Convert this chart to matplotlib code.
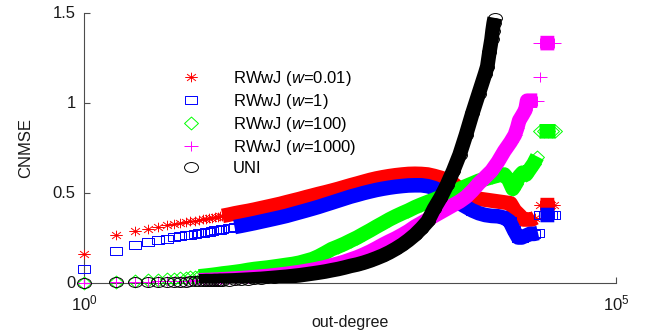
import numpy as np
import matplotlib
matplotlib.use('Agg')
import matplotlib.pyplot as plt
from matplotlib.path import Path
from matplotlib.transforms import Affine2D
from matplotlib.ticker import NullLocator

plt.rcParams['font.family'] = ['Liberation Sans', 'DejaVu Sans']
plt.rcParams['mathtext.fontset'] = 'custom'
plt.rcParams['mathtext.rm'] = 'Liberation Sans'
plt.rcParams['mathtext.it'] = 'Liberation Sans:italic'

# out-degree values of the main band (shared by all five estimators)
degree = [1, 2, 3, 4, 5, 6, 7, 8, 9, 10, 11, 12, 13, 14, 15, 16, 17, 18, 19, 20,
          23, 26, 30, 35, 40, 46, 53, 61, 70, 80, 92, 106, 122, 140, 160, 185, 212, 245, 280, 320,
          370, 425, 490, 560, 645, 740, 850, 980, 1120, 1290, 1480, 1700, 1950, 2240, 2570, 2950,
          3390, 3890, 4470, 5130, 5890]

cnmse_w001 = [.157, .264, .286, .300, .310, .318, .324, .330, .335, .340, .344, .348, .352, .355, .358,
              .361, .364, .366, .368, .370,
              .377, .384, .391, .398, .405, .413, .421, .429, .437, .446, .455, .464, .474, .483, .492,
              .501, .510, .520, .530, .540,
              .550, .560, .570, .578, .585, .591, .596, .600, .603, .604, .603, .600, .592, .582, .570,
              .550, .520, .490, .475, .465, .460]
cnmse_w1 = [.075, .175, .208, .223, .236, .244, .251, .257, .262, .266, .270, .274, .277, .280, .283,
            .286, .289, .291, .293, .295,
            .302, .308, .315, .323, .330, .338, .346, .354, .362, .370, .380, .390, .400, .410, .420,
            .432, .443, .455, .466, .477,
            .487, .497, .506, .514, .521, .527, .532, .536, .539, .540, .540, .535, .525, .510, .490,
            .470, .440, .420, .400, .385, .375]
cnmse_w100 = [0, .004, .008, .012, .015, .018, .021, .024, .027, .030, .032, .034, .036, .038, .040,
              .042, .044, .046, .048, .050,
              .054, .058, .063, .070, .075, .079, .083, .088, .093, .098, .103, .110, .120, .130, .145,
              .165, .185, .200, .215, .232,
              .250, .270, .290, .310, .330, .350, .368, .385, .400, .418, .433, .447, .460, .475, .490,
              .505, .520, .535, .550, .565, .575]
cnmse_w1000 = [0, .002, .004, .005, .006, .007, .008, .009, .010, .011, .012, .012, .013, .014, .014,
               .015, .016, .016, .017, .018,
               .020, .022, .024, .027, .030, .033, .036, .040, .044, .048, .053, .058, .064, .070, .077,
               .085, .095, .105, .115, .127,
               .140, .155, .172, .190, .210, .228, .245, .265, .285, .310, .330, .350, .370, .390, .410,
               .430, .450, .475, .510, .550, .585]
cnmse_uni = [0, .001, .002, .003, .003, .004, .004, .005, .005, .006, .006, .007, .007, .008, .008,
             .008, .009, .009, .010, .010,
             .011, .012, .014, .016, .018, .020, .023, .026, .029, .032, .036, .040, .045, .050, .055,
             .061, .068, .075, .083, .092,
             .100, .110, .122, .135, .150, .167, .187, .210, .235, .265, .300, .340, .410, .470, .540,
             .620, .710, .820, .940, 1.050, 1.160]

# high-degree tails (nan = gap between clusters)
nan = np.nan
tail_deg_w001 = [6760, 7760, 8910, 10200, 11200, 12600, 13500, 14800, 16200, 17400, nan,
                 19500, 21300, 23000, 24700, 26300]
tail_w001 = [.455, .450, .445, .440, .400, .370, .350, .350, .350, .360, nan,
             .430, .430, .430, .430, .430]
tail_deg_w1 = [6760, 7760, 8910, 10000, 11000, 12000, 13000, 14200, 15500, 17000, 18500, nan,
               19500, 21300, 23000, 24700, 26300]
tail_w1 = [.370, .368, .360, .340, .290, .250, .250, .260, .270, .270, .275, nan,
           .375, .375, .375, .375, .375]
tail_deg_w100 = [6760, 7760, 8910, 9800, 10700, 11500, 12300, 13200, 14300, 15500, 16800, 18200, nan,
                 19100, 21000, 23000, 25000, 27000]
tail_w100 = [.585, .595, .600, .570, .520, .550, .590, .610, .600, .630, .660, .700, nan,
             .840, .840, .840, .840, .840]
tail_deg_w1000 = [6760, 7760, 8910, 10200, 11200, 11800, 12300, 13200, 14100, 14600, 15800, 17000,
                  18200, nan, 19100, nan, 19500, 21000, 22600, 24400, 26300]
tail_w1000 = [.620, .670, .730, .780, .820, .860, .900, .930, .960, 1.010, 1.010, 1.010,
              1.010, nan, 1.140, nan, 1.330, 1.330, 1.330, 1.330, 1.330]
tail_deg_uni = [6170, 6460, 6760, 6920, 7080, 7240]
tail_uni = [1.20, 1.28, 1.35, 1.40, 1.44, 1.47]

labels = ['RWwJ ($w$=0.01)', 'RWwJ ($w$=1)', 'RWwJ ($w$=100)', 'RWwJ ($w$=1000)', 'UNI']
colors = ['#ff0000', '#0000ff', '#00ff00', '#ff00ff', '#000000']


# MATLAB-like markers, a bit wider than tall like in the picture
def seg_path(pts):
    codes = [Path.MOVETO, Path.LINETO] * (len(pts) // 2)
    return Path(pts, codes)


star = seg_path([(-1.3, 0), (1.3, 0), (0, -1), (0, 1), (-0.92, -0.7), (0.92, 0.7), (-0.92, 0.7), (0.92, -0.7)])
plus = seg_path([(-1.3, 0), (1.3, 0), (0, -1), (0, 1)])
square = Path([(-1.45, -1), (1.45, -1), (1.45, 1), (-1.45, 1), (-1.45, -1)], closed=True)
diamond = Path([(0, -1), (1.08, 0), (0, 1), (-1.08, 0), (0, -1)], closed=True)
ellipse = Affine2D().scale(1.4, 1.0).transform_path(Path.unit_circle())
markers = [(star, 9), (square, 8.6), (diamond, 10), (plus, 9.4), (ellipse, 10)]

series = [(cnmse_w001, tail_deg_w001, tail_w001),
          (cnmse_w1, tail_deg_w1, tail_w1),
          (cnmse_w100, tail_deg_w100, tail_w100),
          (cnmse_w1000, tail_deg_w1000, tail_w1000),
          (cnmse_uni, tail_deg_uni, tail_uni)]
band_start = [20, 26, 12, 12, 12]

fig = plt.figure(figsize=(6.52, 3.31), dpi=100)
ax = fig.add_axes([84 / 652, 48.5 / 331, 532 / 652, 270 / 331])

handles = []
for i, (vals, tdeg, tvals) in enumerate(series):
    x = np.array(degree + tdeg, dtype=float)
    y = np.array(vals + tvals, dtype=float)
    c = colors[i]
    # dense part of the scatter: thousands of overlapping markers -> solid band
    m = ~(x < band_start[i])  # keeps the nan gaps
    ax.plot(x[m], y[m], '-', color=c, lw=10.5, solid_capstyle='butt', zorder=2 + 2 * i)
    h, = ax.plot(x, y, ls='none', marker=markers[i][0], ms=markers[i][1], mfc='none',
                 mec=c, mew=0.7, clip_on=False, zorder=3 + 2 * i)
    handles.append(h)

ax.set_xscale('log')
ax.set_xlim(1, 1e5)
ax.set_ylim(0, 1.5)
ax.set_xticks([1, 1e5])
ax.xaxis.set_minor_locator(NullLocator())
ax.set_yticks([0, 0.5, 1, 1.5])
ax.set_yticklabels(['0', '0.5', '1', '1.5'])

for s in ['top', 'right']:
    ax.spines[s].set_visible(False)
for s in ['left', 'bottom']:
    ax.spines[s].set_color('0.3')
    ax.spines[s].set_linewidth(0.8)
    ax.spines[s].set_zorder(1)

ax.tick_params(axis='both', direction='in', length=4, width=0.8, color='0.3',
               labelcolor='0.1', labelsize=12)
ax.tick_params(axis='y', pad=6)
ax.tick_params(axis='x', pad=8)

ax.set_xlabel('out-degree', fontsize=11.5, color='0.1', labelpad=1)
ax.set_ylabel('CNMSE', fontsize=12, color='0.1', labelpad=14)

ax.legend(handles, labels, loc='upper left', bbox_to_anchor=(0.178, 0.792), frameon=False,
          fontsize=12, numpoints=1, handlelength=1.5, handletextpad=1.75,
          labelspacing=0.25, borderpad=0, borderaxespad=0)

fig.savefig('out.png', dpi=100)
